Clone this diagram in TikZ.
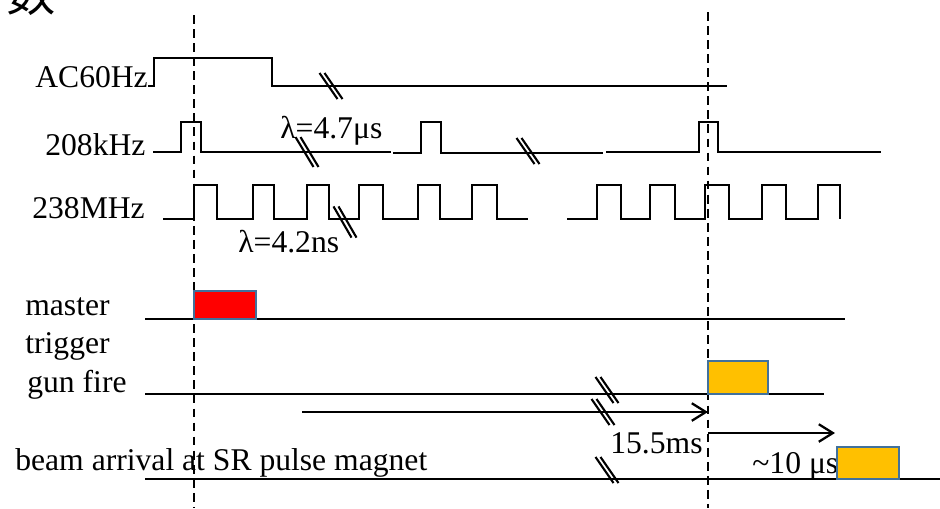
\documentclass[tikz,border=0pt]{standalone}
\usepackage{fontspec}
\setmainfont{Liberation Serif}
\newfontfamily\cjkfont{Noto Sans CJK SC}
\usepackage{tikz}
\usetikzlibrary{arrows.meta}
\definecolor{boxedge}{HTML}{41719C}
\definecolor{gunpulse}{HTML}{FFC000}

\begin{document}
\begin{tikzpicture}[x=0.02cm, y=-0.02cm, >={Straight Barb[length=8pt,width=10pt]},
    wave/.style={line width=1.3pt, line join=miter},
    marker/.style={line width=1.3pt, dash pattern=on 5pt off 3pt},
    lbl/.style={anchor=base west, inner sep=0pt, font=\fontsize{18}{20}\selectfont},
    pulsebox/.style={draw=boxedge, line width=1.3pt},
    brkmark/.pic={
        \draw[line width=1.2pt] (-11.5,-13) -- (6.5,13);
        \draw[line width=1.2pt] (-6.5,-13) -- (11.5,13);
    }]

    \useasboundingbox (0,0) rectangle (940,508);

    % --- Heading (cut off at the top) ---
    \node[anchor=base west, inner sep=0pt, font=\cjkfont\fontsize{28}{30}\selectfont] (title) at (6,11) {数};

    % --- Reference marker lines ---
    \draw[marker] (194,15) -- (194,508);
    \draw[marker] (708,12) -- (708,508);

    % --- AC 60 Hz ---
    \node[lbl] (lblac) at (35,87) {AC60Hz};
    \draw[wave] (148,86) -- (154,86) -- (154,58) -- (272,58) -- (272,86) -- (727,86);
    \pic at (331,86) {brkmark};

    % --- 208 kHz ---
    \node[lbl] (lblkhz) at (45,155) {208kHz};
    \draw[wave] (153,152) -- (181,152) -- (181,122) -- (201,122) -- (201,152) -- (391,152);
    \draw[wave] (393,153) -- (421,153) -- (421,122) -- (441,122) -- (441,153) -- (603,153);
    \draw[wave] (606,152) -- (699,152) -- (699,122) -- (718,122) -- (718,152) -- (881,152);
    \pic[yscale=1.15] at (307,152) {brkmark};
    \pic at (528,151) {brkmark};
    \node[lbl] (lblperiodk) at (280,138) {λ=4.7μs};

    % --- 238 MHz ---
    \node[lbl] (lblmhz) at (32,218) {238MHz};
    \draw[wave] (163,219) -- (194,219) -- (194,185) -- (217,185) -- (217,219)
        -- (253,219) -- (253,185) -- (274,185) -- (274,219)
        -- (307,219) -- (307,185) -- (329,185) -- (329,219)
        -- (359,219) -- (359,185) -- (383,185) -- (383,219)
        -- (418,219) -- (418,185) -- (440,185) -- (440,219)
        -- (472,219) -- (472,185) -- (497,185) -- (497,219) -- (528,219);
    \draw[wave] (567,219) -- (597,219) -- (597,185) -- (621,185) -- (621,219)
        -- (650,219) -- (650,185) -- (675,185) -- (675,219)
        -- (705,219) -- (705,185) -- (729,185) -- (729,219)
        -- (762,219) -- (762,185) -- (786,185) -- (786,219)
        -- (818,219) -- (818,185) -- (840,185) -- (840,219);
    \pic[yscale=1.2] at (345,222) {brkmark};
    \node[lbl] (lblperiodm) at (238,252) {λ=4.2ns};

    % --- master trigger ---
    \node[lbl] (lblmaster) at (25,315) {master};
    \node[lbl] (lbltrigger) at (25,353) {trigger};
    \draw[wave] (145,319) -- (845,319);
    \filldraw[pulsebox, fill=red] (194,291) rectangle (256,319);

    % --- gun fire ---
    \node[lbl] (lblgun) at (27,392) {gun fire};
    \draw[wave] (145,394) -- (824,394);
    \filldraw[pulsebox, fill=gunpulse] (708,361) rectangle (768,394);
    \pic at (607,390) {brkmark};

    % --- delays ---
    \coordinate (delaystart) at (302,412);
    \coordinate (gunstart) at (708,412);
    \draw[wave, ->] (delaystart) -- (gunstart);
    \pic at (603,412) {brkmark};
    \node[lbl] (lbldelay) at (610,453) {15.5ms};

    \coordinate (flightstart) at (708,433);
    \coordinate (flightend) at (835,433);
    \draw[wave, ->] (flightstart) -- (flightend);
    \node[lbl] (lblflight) at (752,473) {\textasciitilde10 μs};

    % --- beam arrival ---
    \node[lbl] (lblbeam) at (15,470) {beam arrival at SR pulse magnet};
    \draw[wave] (145,479) -- (940,479);
    \filldraw[pulsebox, fill=gunpulse] (837,447) rectangle (899,479);
    \pic at (607,470) {brkmark};

\end{tikzpicture}
\end{document}
